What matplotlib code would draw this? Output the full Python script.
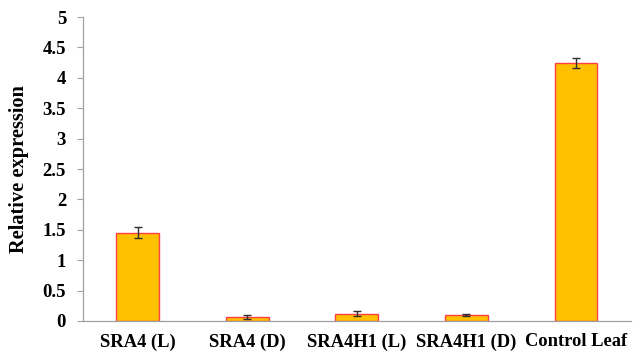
import matplotlib
matplotlib.use("Agg")
import matplotlib.pyplot as plt
import numpy as np

categories = ["SRA4 (L)", "SRA4 (D)", "SRA4H1 (L)", "SRA4H1 (D)", "Control Leaf"]
values = [1.45, 0.065, 0.12, 0.10, 4.24]
errors = [0.09, 0.03, 0.04, 0.015, 0.08]
yticks = [0, 0.5, 1, 1.5, 2, 2.5, 3, 3.5, 4, 4.5, 5]
ytick_labels = ["0", "0.5", "1", "1.5", "2", "2.5", "3", "3.5", "4", "4.5", "5"]

plt.rcParams["font.family"] = ["Liberation Serif", "DejaVu Serif"]
plt.rcParams["font.weight"] = "bold"

fig = plt.figure(figsize=(6.33, 3.55), dpi=100)
ax = fig.add_axes([0.1307, 0.0958, 0.866, 0.856])

x = np.arange(len(categories))
ax.bar(x, values, width=0.39, color="#FFC000", edgecolor="#FF4040", linewidth=1.0,
       yerr=errors, capsize=3,
       error_kw=dict(ecolor="#2E2E2E", elinewidth=1.0, capthick=1.0))

ax.set_xlim(-0.5, len(categories) - 0.5)
ax.set_ylim(0, 5)
ax.set_yticks(yticks)
ax.set_yticklabels(ytick_labels, fontsize=13.5, fontweight="bold")
ax.set_xticks(x)
ax.set_xticklabels(categories, fontsize=13.3, fontweight="bold")
ax.tick_params(axis="x", length=0, pad=9)
ax.tick_params(axis="y", length=4, width=0.8, color="#A0A0A0", pad=8)
ax.set_ylabel("Relative expression", fontsize=14.7, fontweight="bold", labelpad=10)

for side in ("top", "right"):
    ax.spines[side].set_visible(False)
for side in ("left", "bottom"):
    ax.spines[side].set_color("#A0A0A0")
    ax.spines[side].set_linewidth(0.9)

fig.savefig("out.png", dpi=100)
